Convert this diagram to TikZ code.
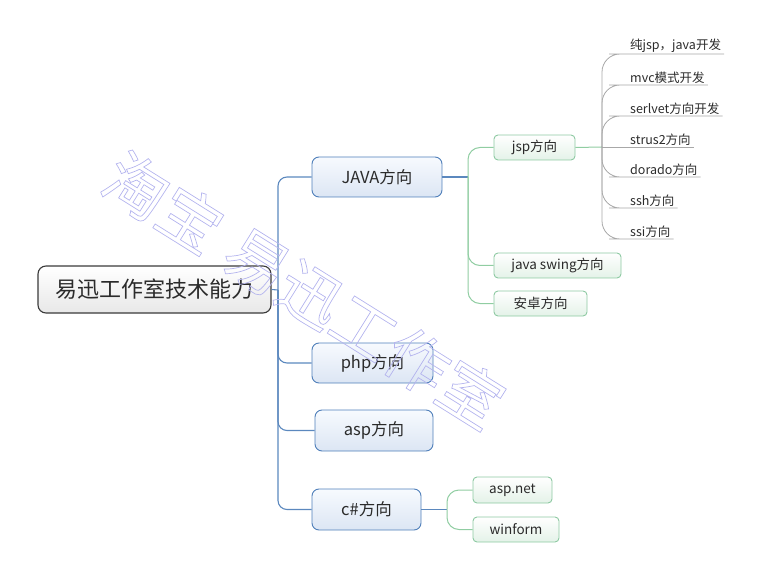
\documentclass[tikz,border=0pt]{standalone}
\usepackage{fontspec}
\setmainfont{Noto Sans CJK SC}
\definecolor{txt}{HTML}{2B2B2B}
\definecolor{rootdraw}{HTML}{3A3A3A}
\definecolor{bluedraw}{HTML}{4F7FBA}
\definecolor{bluetop}{HTML}{F7FAFE}
\definecolor{bluebot}{HTML}{DCE6F4}
\definecolor{blueline}{HTML}{5B88BE}
\definecolor{greendraw}{HTML}{8DC9A2}
\definecolor{greenbot}{HTML}{E4F2E8}
\definecolor{greenline}{HTML}{90CDA2}
\definecolor{grayline}{HTML}{A8A8A8}
\definecolor{wmcol}{HTML}{B4B4EE}
\begin{document}
\begin{tikzpicture}[x=1pt,y=-1pt,
  rootbox/.style={draw=rootdraw, line width=1.1pt, rounded corners=8pt,
    top color=white, bottom color=black!9, text=txt,
    minimum width=233pt, minimum height=47pt, inner sep=0pt,
    font=\fontsize{22}{25}\selectfont},
  lonebox/.style={draw=bluedraw, line width=0.9pt, rounded corners=7pt,
    top color=bluetop, bottom color=bluebot, text=txt,
    minimum height=40pt, inner sep=0pt,
    font=\fontsize{16.5}{19}\selectfont},
  ltwobox/.style={draw=greendraw, line width=0.9pt, rounded corners=4pt,
    top color=white, bottom color=greenbot, text=txt,
    minimum height=25pt, inner sep=0pt,
    font=\fontsize{13.5}{16}\selectfont},
  lthree/.style={anchor=south west, inner xsep=3pt, inner ysep=1.5pt, text=txt,
    font=\fontsize{12.5}{14}\selectfont},
  bline/.style={draw=blueline, line width=1.1pt},
  gline/.style={draw=greenline, line width=1.0pt},
  yline/.style={draw=grayline, line width=0.8pt},
]
\useasboundingbox (0,0) rectangle (758,580);

% nodes
\node[rootbox] (root) at (154.5,289.5) {易迅工作室技术能力};
\node[lonebox, minimum width=130pt] (java) at (377,177) {JAVA方向};
\node[lonebox, minimum width=121pt] (php) at (372.5,363) {php方向};
\node[lonebox, minimum width=118pt, minimum height=41pt] (asp) at (374,430.5) {asp方向};
\node[lonebox, minimum width=109pt, minimum height=41pt] (cs) at (366.5,509.5) {c\#方向};

\node[ltwobox, minimum width=81pt] (jsp) at (534.5,147.5) {jsp方向};
\node[ltwobox, minimum width=127pt] (swing) at (557.5,265.5) {java swing方向};
\node[ltwobox, minimum width=93pt] (andr) at (540.5,303.5) {安卓方向};
\node[ltwobox, minimum width=79pt, minimum height=26pt] (aspnet) at (512.5,490) {asp.net};
\node[ltwobox, minimum width=86pt] (winf) at (516,529.5) {winform};

\node[lthree] (c1) at (627,54) {纯jsp，java开发};
\node[lthree] (c2) at (627,85) {mvc模式开发};
\node[lthree] (c3) at (627,116) {serlvet方向开发};
\node[lthree] (c4) at (627,147) {strus2方向};
\node[lthree] (c5) at (627,177) {dorado方向};
\node[lthree] (c6) at (627,208) {ssh方向};
\node[lthree] (c7) at (627,239) {ssi方向};

% hubs
\coordinate (h1) at (278,290);
\coordinate (h2) at (468,177);
\coordinate (h3) at (447,509.5);
\coordinate (h4) at (602,147);

% trunk
\draw[bline] (root.east) -- (h1);
\draw[bline, rounded corners=9pt] (h1) |- (java.west);
\draw[bline, rounded corners=9pt] (h1) |- (php.west);
\draw[bline, rounded corners=9pt] (h1) |- (asp.west);
\draw[bline, rounded corners=9pt] (h1) |- (cs.west);

% java children
\draw[bline] (java.east) -- (h2);
\draw[gline, rounded corners=12pt] (h2) |- (jsp.west);
\draw[gline, rounded corners=12pt] (h2) |- (swing.west);
\draw[gline, rounded corners=12pt] (h2) |- (andr.west);

% c# children
\draw[bline] (cs.east) -- (h3);
\draw[gline, rounded corners=12pt] (h3) |- (aspnet.west);
\draw[gline, rounded corners=12pt] (h3) |- (winf.west);

% jsp children
\draw[gline] (jsp.east) -- (h4);
\draw[yline, rounded corners=18pt] (h4) |- (c1.south west) -- (c1.south east);
\draw[yline, rounded corners=18pt] (h4) |- (c2.south west) -- (c2.south east);
\draw[yline, rounded corners=18pt] (h4) |- (c3.south west) -- (c3.south east);
\draw[yline] (h4) -- (c4.south east);
\draw[yline, rounded corners=18pt] (h4) |- (c5.south west) -- (c5.south east);
\draw[yline, rounded corners=18pt] (h4) |- (c6.south west) -- (c6.south east);
\draw[yline, rounded corners=18pt] (h4) |- (c7.south west) -- (c7.south east);

% watermark
\node[text=wmcol, rotate=-32, inner sep=0pt, font=\fontsize{63}{63}\selectfont] (wm) at (304,290)
  {\special{pdf:literal direct 1 Tr 0.7 w}淘宝\hspace{0.25em}易迅工作室\special{pdf:literal direct 0 Tr}};
\end{tikzpicture}
\end{document}
